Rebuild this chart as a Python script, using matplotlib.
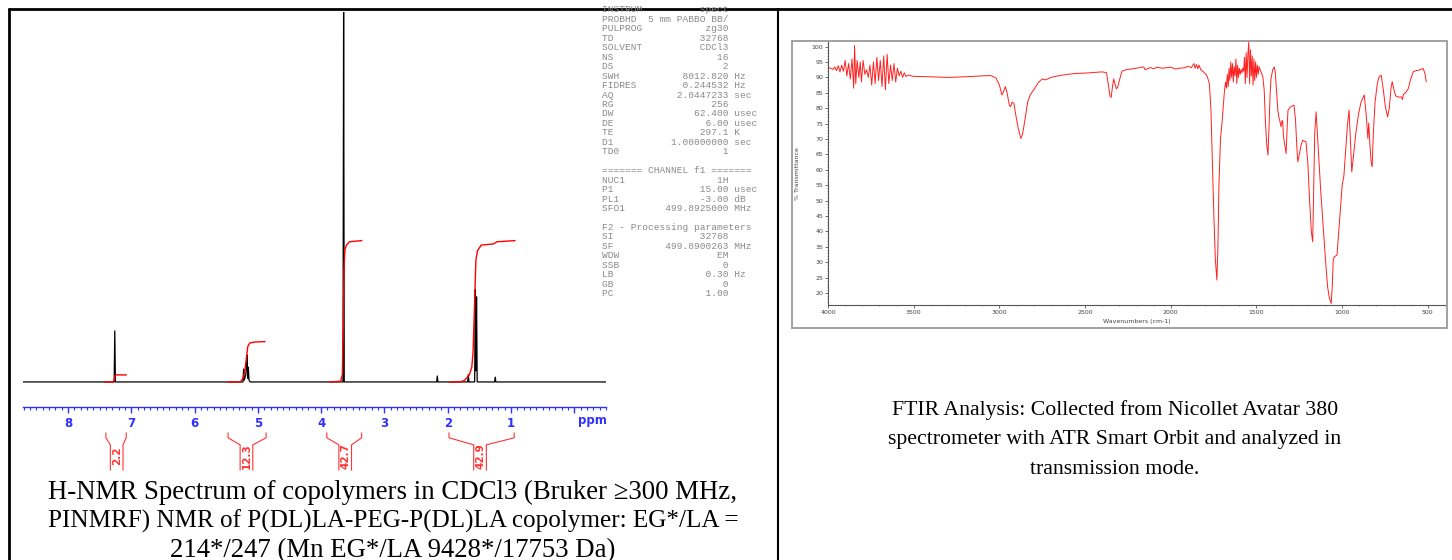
import matplotlib.pyplot as plt
from matplotlib.lines import Line2D
from matplotlib.patches import Rectangle
from matplotlib.ticker import MultipleLocator

W, H = 1452, 560

# 1H NMR spectrum (ppm, intensity)
nmr_ppm = [8.71, 7.29, 7.27, 7.26, 7.25, 7.23,
           5.26, 5.235, 5.225, 5.215, 5.19, 5.18, 5.17, 5.16, 5.15, 5.14, 5.12,
           3.68, 3.655, 3.645, 3.635, 3.61,
           2.19, 2.175, 2.165, 2.155,
           1.70, 1.685, 1.675, 1.665, 1.60, 1.575, 1.565, 1.555, 1.545, 1.535, 1.52,
           1.26, 1.25, 1.24, -0.5]
nmr_y = [0, 0, 0, 13.8, 0, 0,
         0, 0, 3.5, 0.5, 2.0, 4.5, 7.3, 1.0, 4.0, 0.5, 0,
         0, 0, 105, 0, 0,
         0, 0, 1.6, 0,
         0, 0, 2.0, 0, 0, 0, 25.0, 3.0, 23.0, 0, 0,
         0, 1.3, 0, 0]

# integral curves
int1_ppm = [7.42, 7.28, 7.265, 7.255, 7.24, 7.08]
int1_val = [0, 0, 0.8, 1.8, 1.9, 1.9]
int2_ppm = [5.47, 5.28, 5.24, 5.21, 5.18, 5.16, 5.13, 5.05, 4.89]
int2_val = [0, 0, 0.8, 2.5, 6.5, 9.5, 10.5, 10.8, 10.9]
int3_ppm = [3.86, 3.69, 3.665, 3.65, 3.64, 3.625, 3.60, 3.55, 3.36]
int3_val = [0, 0.2, 2, 15, 30, 35.7, 37.0, 37.9, 38.2]
int4_ppm = [1.97, 1.80, 1.73, 1.66, 1.62, 1.60, 1.575, 1.555, 1.53, 1.47, 1.28, 1.22, 0.94]
int4_val = [0, 0, 0.5, 1.9, 4.0, 8.0, 22.0, 33.0, 35.5, 37.0, 37.3, 37.9, 38.2]

int_labels = ['2.2', '12.3', '42.7', '42.9']
int_start = [7.40, 5.47, 3.91, 1.98]
int_end = [7.08, 4.87, 3.36, 0.95]
int_center = [7.23, 5.18, 3.62, 1.49]

ppm_ticks = [8, 7, 6, 5, 4, 3, 2, 1, 0]
ppm_labels = ['8', '7', '6', '5', '4', '3', '2', '1', '']

# acquisition parameters
acq_names = ['INSTRUM', 'PROBHD', 'PULPROG', 'TD', 'SOLVENT', 'NS', 'DS', 'SWH',
             'FIDRES', 'AQ', 'RG', 'DW', 'DE', 'TE', 'D1', 'TD0']
acq_values = ['spect', '5 mm PABBO BB/', 'zg30', '32768', 'CDCl3', '16', '2', '8012.820',
              '0.244532', '2.0447233', '256', '62.400', '6.00', '297.1', '1.00000000', '1']
acq_units = ['', '', '', '', '', '', '', 'Hz', 'Hz', 'sec', '', 'usec', 'usec', 'K', 'sec', '']
ch_names = ['NUC1', 'P1', 'PL1', 'SFO1']
ch_values = ['1H', '15.00', '-3.00', '499.8925000']
ch_units = ['', 'usec', 'dB', 'MHz']
proc_names = ['SI', 'SF', 'WDW', 'SSB', 'LB', 'GB', 'PC']
proc_values = ['32768', '499.8900263', 'EM', '0', '0.30', '0', '1.00']
proc_units = ['', 'MHz', '', '', 'Hz', '', '']

# FTIR spectrum (wavenumber, %T)
ir_wn = [4000, 3985, 3970, 3960, 3950, 3940, 3930, 3920, 3910, 3900,
         3890, 3880, 3870, 3860, 3850, 3845, 3838, 3830, 3820, 3812,
         3805, 3795, 3785, 3775, 3765, 3755, 3745, 3735, 3725, 3715,
         3705, 3695, 3685, 3675, 3665, 3655, 3645, 3635, 3625, 3615,
         3605, 3595, 3585, 3575, 3565, 3555, 3545, 3530, 3510,
         3480, 3400, 3300, 3200, 3100, 3050, 3020, 3000, 2985, 2975,
         2965, 2955, 2942, 2935, 2925, 2915, 2905, 2890, 2875, 2865,
         2850, 2835, 2820, 2800, 2770, 2750, 2730, 2700, 2650, 2600,
         2550, 2500, 2450, 2400, 2375, 2365, 2355, 2348, 2340, 2333,
         2326, 2318, 2310, 2300, 2285, 2260,
         2200, 2158, 2150, 2120, 2100, 2080, 2050, 2000, 1970, 1950,
         1920, 1900, 1880, 1865, 1858, 1850, 1842, 1835, 1825, 1810,
         1795, 1786, 1775, 1766, 1760, 1755, 1748, 1740, 1731, 1725,
         1719, 1710, 1700, 1692, 1686,
         1680, 1675, 1670, 1665, 1660, 1655, 1650, 1645, 1640, 1635,
         1630, 1625, 1620, 1615, 1610, 1605, 1600, 1595, 1590, 1585,
         1580, 1575, 1570, 1565, 1560, 1555, 1550, 1545, 1540, 1535,
         1530, 1525, 1520, 1515, 1510, 1505, 1500, 1495, 1490, 1485,
         1475, 1463,
         1455, 1448, 1440, 1433, 1428, 1420, 1415, 1405, 1396, 1390,
         1382, 1375, 1368, 1362, 1357, 1350, 1347, 1343, 1335, 1327,
         1320, 1316, 1300, 1281, 1272, 1265, 1259, 1250, 1240, 1230,
         1220, 1211, 1200, 1190, 1180, 1172, 1166, 1160, 1152, 1145,
         1135, 1125, 1115, 1105, 1095, 1085, 1075, 1064, 1058, 1052,
         1045, 1030, 1020, 1010, 1000, 990, 980, 970, 960, 952,
         944,
         935, 920, 905, 890, 871, 860, 850, 845, 838, 830,
         825, 818, 808, 795, 785, 772, 760, 748, 735, 725,
         715, 708, 698, 688, 676, 665, 655, 648, 643, 630,
         614, 600, 585, 570, 550, 528, 518, 509]
ir_t = [93.2, 93.0, 92.6, 93.4, 92.2, 93.8, 91.8, 94.0, 92.0, 95.5,
        90.5, 94.5, 89.5, 96.0, 86.5, 100.3, 88.0, 95.5, 90.0, 95.0,
        88.5, 95.5, 91.0, 92.5, 90.0, 94.0, 87.5, 95.0, 88.0, 96.5,
        89.0, 95.5, 87.0, 97.0, 86.0, 97.5, 88.0, 94.0, 89.0, 94.5,
        88.5, 93.0, 90.5, 92.0, 90.0, 91.5, 90.3, 90.8, 90.4,
        90.3, 90.2, 90.0, 90.2, 90.5, 90.6, 89.8, 87.5, 84.3, 85.5,
        87.0, 85.0, 81.0, 80.5, 82.0, 81.5, 78.0, 73.5, 70.2, 71.5,
        76.5, 82.0, 84.3, 86.0, 88.5, 89.5, 89.2, 90.0, 90.6, 91.0,
        91.3, 91.4, 91.6, 91.8, 91.5, 88.0, 84.0, 83.5, 87.0, 89.5,
        88.0, 86.3, 86.8, 89.0, 92.0, 92.5,
        93.0, 93.4, 92.5, 93.2, 92.8, 93.3, 93.0, 93.3, 92.7, 93.0,
        93.1, 93.6, 93.2, 94.5, 93.0, 94.2, 92.8, 94.0, 92.5, 91.8,
        91.1, 90.1, 88.0, 80.0, 68.0, 58.0, 44.0, 31.0, 24.2, 35.0,
        55.0, 70.0, 76.0, 82.0, 86.0,
        88.5, 86.5, 91.0, 87.0, 93.0, 89.0, 95.0, 90.0, 94.5, 88.5,
        93.5, 90.5, 96.0, 88.0, 94.0, 90.0, 93.0, 91.0, 92.5, 91.5,
        93.0, 92.0, 96.5, 88.0, 98.0, 90.0, 97.5, 101.5, 88.0, 99.0,
        90.5, 97.0, 87.5, 96.0, 89.0, 95.0, 90.0, 94.0, 91.0, 93.5,
        92.0, 90.2,
        86.0, 76.0, 68.0, 64.8, 72.0, 85.0, 89.7, 92.5, 93.4, 91.5,
        85.0, 79.0, 76.8, 75.5, 74.0, 76.0, 75.6, 71.2, 68.0, 65.3,
        75.0, 79.4, 80.5, 81.0, 76.0, 68.0, 62.6, 65.0, 68.0, 69.6,
        69.3, 69.1, 62.0, 50.0, 40.0, 36.6, 55.0, 72.0, 78.8, 72.0,
        62.0, 53.0, 45.0, 37.0, 29.0, 22.0, 18.5, 16.6, 22.0, 31.0,
        31.8, 32.3, 40.0, 48.0, 55.0, 58.0, 66.0, 74.0, 79.4, 70.0,
        59.3,
        64.0, 72.0, 78.0, 82.0, 84.3, 78.0, 70.2, 75.2, 68.0, 62.0,
        61.0, 72.0, 82.0, 88.0, 90.2, 90.7, 86.0, 80.5, 77.2, 80.0,
        86.5, 88.6, 86.0, 84.0, 83.7, 83.6, 83.7, 82.8, 84.5, 85.0,
        86.4, 89.5, 91.8, 92.2, 92.4, 92.9, 91.5, 88.6]

nmr_caption = ['H-NMR Spectrum of copolymers in CDCl3 (Bruker \u2265300 MHz,',
               'PINMRF) NMR of P(DL)LA-PEG-P(DL)LA copolymer: EG*/LA =',
               '214*/247 (Mn EG*/LA 9428*/17753 Da)']
nmr_caption_size = [19.3, 18.1, 19.3]
ftir_caption = ['FTIR Analysis: Collected from Nicollet Avatar 380',
                'spectrometer with ATR Smart Orbit and analyzed in',
                'transmission mode.']


def fx(x):
    return x / W


def fy(y):
    return 1 - y / H


fig = plt.figure(figsize=(W / 100, H / 100), dpi=100)

# ---- NMR panel ----
ax1 = fig.add_axes([fx(23), fy(470), 583 / W, 458 / H])
ax1.plot(nmr_ppm, nmr_y, color='black', lw=0.9)
for p, v in [(int1_ppm, int1_val), (int2_ppm, int2_val), (int3_ppm, int3_val), (int4_ppm, int4_val)]:
    ax1.plot(p, v, color='red', lw=1.0)
ax1.set_xlim(8.71, -0.5)
ax1.set_ylim(-23.8, 100)
ax1.set_facecolor('none')
for s in ['top', 'right', 'left']:
    ax1.spines[s].set_visible(False)
blue = '#3030ff'
ax1.spines['bottom'].set_position(('data', -6.76))
ax1.spines['bottom'].set_color(blue)
ax1.spines['bottom'].set_linewidth(1.0)
ax1.set_yticks([])
ax1.set_xticks(ppm_ticks)
ax1.set_xticklabels(ppm_labels)
ax1.xaxis.set_minor_locator(MultipleLocator(0.1))
ax1.tick_params(axis='x', which='major', direction='out', length=4, width=1, color=blue,
                labelcolor=blue, labelsize=8.5, pad=3)
ax1.tick_params(axis='x', which='minor', direction='out', length=2, width=0.8, color=blue)
for lab in ax1.get_xticklabels():
    lab.set_fontweight('bold')
ax1.text(-0.28, -10.5, 'ppm', color=blue, fontsize=8.5, fontweight='bold', ha='center', va='center')

# integral brackets
red = '#ff3333'
for lab, a, b, c in zip(int_labels, int_start, int_end, int_center):
    ax1.plot([a, a, c + 0.1, c + 0.1], [-13.8, -15.1, -17.0, -23.8], color=red, lw=0.8, clip_on=False)
    ax1.plot([b, b, c - 0.1, c - 0.1], [-13.8, -15.1, -17.0, -23.8], color=red, lw=0.8, clip_on=False)
    ax1.text(c, -20.0, lab, rotation=90, color=red, fontsize=7.5, fontweight='bold',
             ha='center', va='center', clip_on=False)

# parameter listing
lines = []
for n, v, u in zip(acq_names, acq_values, acq_units):
    lines.append(f'{n:<8}{v:>14}' + (' ' + u if u else ''))
lines.append('')
lines.append('======= CHANNEL f1 =======')
for n, v, u in zip(ch_names, ch_values, ch_units):
    lines.append(f'{n:<8}{v:>14}' + (' ' + u if u else ''))
lines.append('')
lines.append('F2 - Processing parameters')
for n, v, u in zip(proc_names, proc_values, proc_units):
    lines.append(f'{n:<8}{v:>14}' + (' ' + u if u else ''))
for i, t in enumerate(lines):
    fig.text(fx(602), fy(10 + i * 9.45), t, family='Liberation Mono', fontsize=6.8,
             color='#8a8a8a', va='center', ha='left')

for i, t in enumerate(nmr_caption):
    fig.text(fx(393), fy(492 + i * 29.2), t, family='Liberation Serif', fontsize=nmr_caption_size[i],
             ha='center', va='center')

# ---- FTIR panel ----
fig.add_artist(Rectangle((fx(792), fy(328)), (1447 - 792) / W, (328 - 41) / H,
                         transform=fig.transFigure, fill=False, ec='#9a9a9a', lw=1.3))
ax2 = fig.add_axes([fx(828), fy(305), 617 / W, 263 / H])
ax2.plot(ir_wn, ir_t, color='#ff2020', lw=0.7)
ax2.set_xlim(4000, 400)
ax2.set_ylim(16.1, 101.5)
ax2.spines['top'].set_visible(False)
ax2.spines['right'].set_visible(False)
ax2.spines['left'].set_color('#555555')
ax2.spines['bottom'].set_color('#555555')
ax2.spines['left'].set_linewidth(0.8)
ax2.spines['bottom'].set_linewidth(0.8)
ax2.set_xticks(range(4000, 499, -500))
ax2.set_yticks(range(20, 101, 5))
ax2.xaxis.set_minor_locator(MultipleLocator(100))
ax2.yaxis.set_minor_locator(MultipleLocator(1))
ax2.tick_params(which='major', length=2, width=0.6, color='#555555', labelsize=4.5,
                labelcolor='#444444', pad=1.5)
ax2.tick_params(which='minor', length=1, width=0.5, color='#777777')
ax2.set_xlabel('Wavenumbers (cm-1)', fontsize=4.5, color='#444444', labelpad=3)
ax2.set_ylabel('% Transmittance', fontsize=4.5, color='#444444', labelpad=8)

for i, t in enumerate(ftir_caption):
    fig.text(fx(1115), fy(410 + i * 29.5), t, family='Liberation Serif', fontsize=15.7,
             ha='center', va='center')

# table borders
fig.add_artist(Line2D([fx(8), fx(1452)], [fy(9), fy(9)], color='black', lw=2,
                      solid_capstyle='butt', transform=fig.transFigure))
fig.add_artist(Line2D([fx(9), fx(9)], [fy(8), fy(560)], color='black', lw=2,
                      solid_capstyle='butt', transform=fig.transFigure))
fig.add_artist(Line2D([fx(778), fx(778)], [fy(8), fy(560)], color='black', lw=1.5,
                      solid_capstyle='butt', transform=fig.transFigure))

plt.savefig('out.png', dpi=100)
